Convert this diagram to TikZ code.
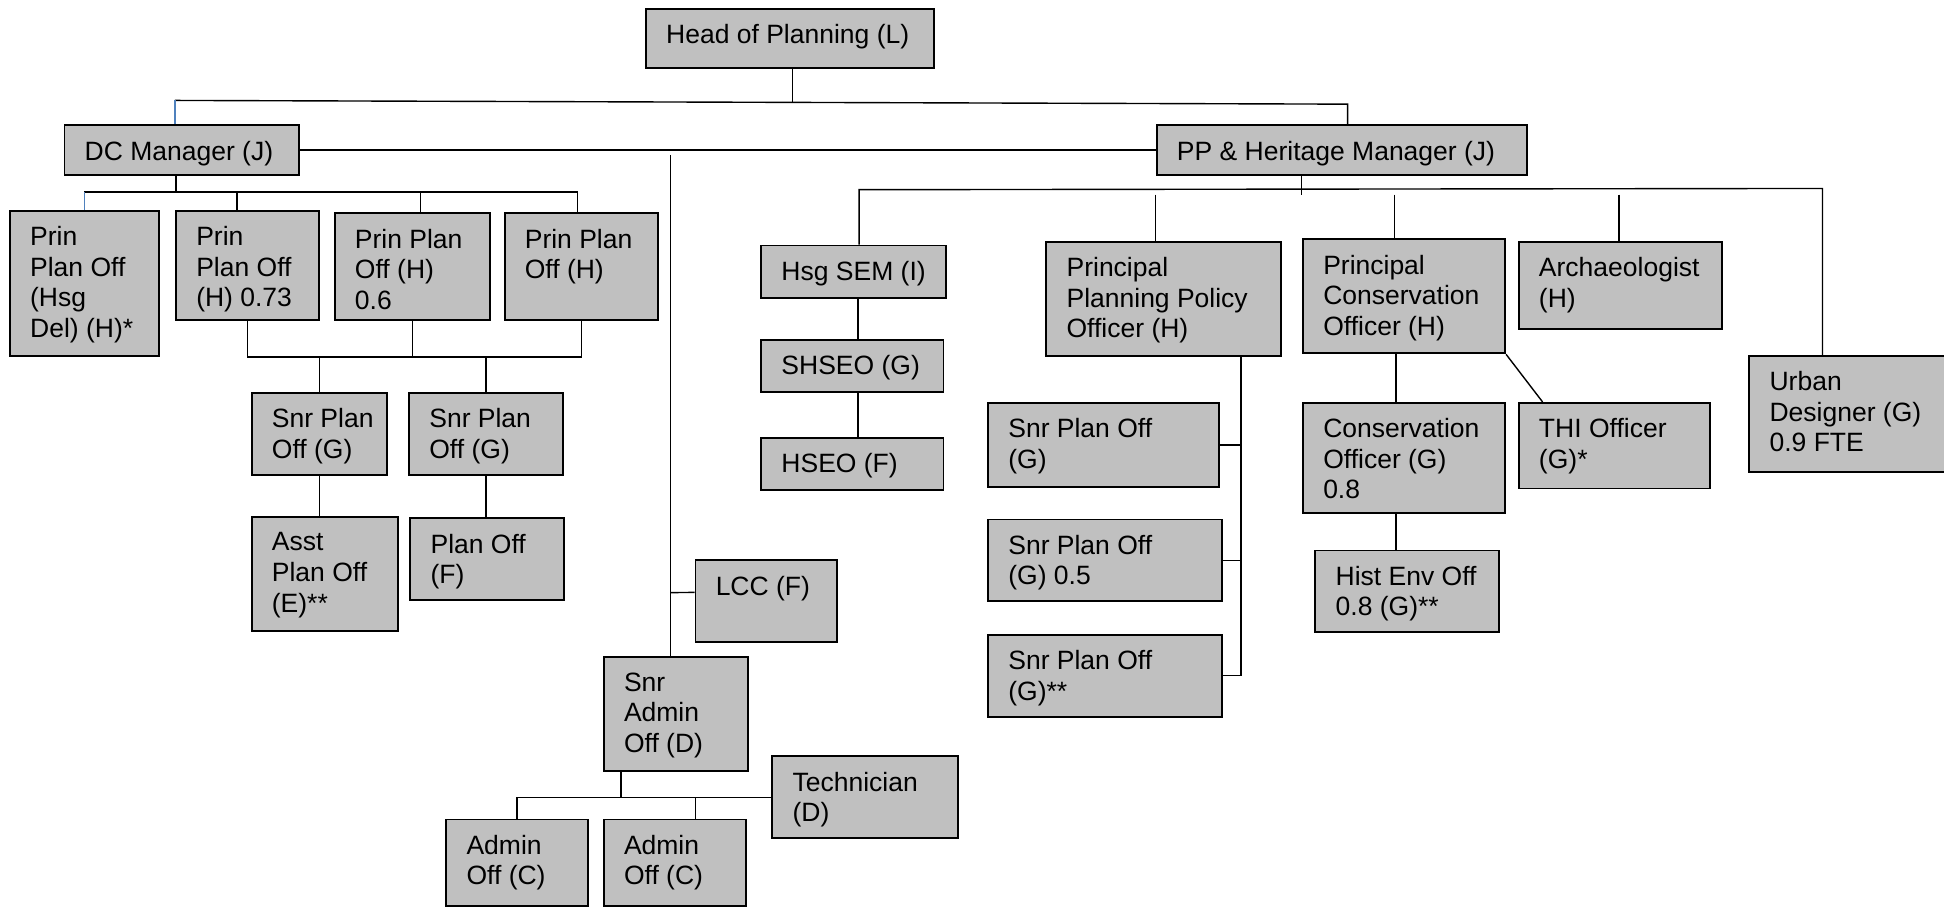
\documentclass[tikz,border=0pt]{standalone}
\usepackage{fontspec}
\setmainfont{Liberation Sans}
\usetikzlibrary{fit}

\definecolor{boxgrey}{RGB}{192,192,192}
\definecolor{linkblue}{RGB}{79,129,189}

\tikzset{
    box/.style={draw=black, line width=1.1pt, fill=boxgrey, inner sep=0pt},
    boxtxt/.style={anchor=north west, inner sep=0pt, align=left,
        font=\fontsize{15.2}{17.5}\selectfont},
    conn/.style={line width=0.8pt},
    bconn/.style={line width=0.8pt, draw=linkblue},
}

% box: name, top-left corner, bottom-right corner, text
\newcommand{\orgbox}[6]{%
    \node[box, fit={(#2,#3) (#4,#5)}] (#1) {};
    \node[boxtxt] (#1-t) at ([xshift=0.42cm,yshift=-0.33cm]#1.north west) {#6};
}

\begin{document}
\begin{tikzpicture}[x=0.025cm, y=-0.025cm]
    \useasboundingbox (0,0) rectangle (1568,732);

    %—————— top ——————
    \orgbox{head}{521}{7}{753}{55}{Head of Planning (L)}
    \orgbox{dc}{52}{101}{241}{141}{DC Manager (J)}
    \orgbox{pp}{933}{101}{1232}{141}{PP \& Heritage Manager (J)}

    %—————— DC side ——————
    \orgbox{pa}{8}{170}{128}{287}{Prin\\Plan Off\\(Hsg\\Del) (H)*}
    \orgbox{pb}{142}{170}{257}{258}{Prin\\Plan Off\\(H) 0.73}
    \orgbox{pc}{270}{172}{395}{258}{Prin Plan\\Off (H)\\0.6}
    \orgbox{pd}{407}{172}{531}{258}{Prin Plan\\Off (H)}
    \orgbox{sa}{203}{317}{312}{383}{Snr Plan\\Off (G)}
    \orgbox{sb}{330}{317}{454}{383}{Snr Plan\\Off (G)}
    \orgbox{asst}{203}{417}{321}{509}{Asst\\Plan Off\\(E)**}
    \orgbox{plo}{331}{418}{455}{484}{Plan Off\\(F)}

    % admin
    \orgbox{lcc}{561}{452}{675}{518}{LCC (F)}
    \orgbox{sadm}{487}{530}{603}{622}{Snr\\Admin\\Off (D)}
    \orgbox{adma}{360}{661}{474}{731}{Admin\\Off (C)}
    \orgbox{admb}{487}{661}{602}{731}{Admin\\Off (C)}
    \orgbox{tech}{623}{610}{773}{676}{Technician\\(D)}

    %—————— PP side ——————
    \orgbox{hsg}{614}{198}{763}{240}{Hsg SEM (I)}
    \orgbox{shs}{614}{274}{761}{316}{SHSEO (G)}
    \orgbox{hse}{614}{353}{761}{395}{HSEO (F)}
    \orgbox{ppo}{844}{195}{1033}{287}{Principal\\Planning Policy\\Officer (H)}
    \orgbox{spa}{797}{325}{983}{393}{Snr Plan Off\\(G)}
    \orgbox{spb}{797}{419}{986}{485}{Snr Plan Off\\(G) 0.5}
    \orgbox{spc}{797}{512}{986}{578}{Snr Plan Off\\(G)**}
    \orgbox{pco}{1051}{193}{1214}{285}{Principal\\Conservation\\Officer (H)}
    \orgbox{cons}{1051}{325}{1214}{414}{Conservation\\Officer (G)\\0.8}
    \orgbox{hist}{1061}{444}{1209}{510}{Hist Env Off\\0.8 (G)**}
    \orgbox{thi}{1225}{325}{1379}{394}{THI Officer\\(G)*}
    \orgbox{arch}{1225}{195}{1389}{265}{Archaeologist\\(H)}
    \orgbox{urb}{1411}{287}{1572}{381}{Urban\\Designer (G)\\0.9 FTE}

    %—————— connectors ——————
    % head to managers
    \coordinate (hb) at (639,83);
    \coordinate (tl) at (141,81);
    \coordinate (tr) at (1087,84);
    \draw[conn] (hb |- head.south) -- (hb);
    \draw[conn] (tl) -- (tr) -- (tr |- pp.north);
    \draw[bconn] (tl) -- (tl |- dc.north);
    \draw[conn] (dc.east) -- (pp.west);

    % DC manager to principals
    \coordinate (db) at (142,155);
    \draw[conn] (db |- dc.south) -- (db);
    \draw[conn] (pa.north |- db) -- (466,155);
    \draw[bconn] (pa.north |- db) -- (pa.north);
    \foreach \x/\n in {191/pb, 339/pc, 466/pd}
        \draw[conn] (\x,155) -- (\x,155 |- \n.north);

    % principals to senior officers
    \coordinate (lb) at (201,288);
    \draw[conn] (pb.south) -- (pb.south |- lb) -- (pd.south |- lb) -- (pd.south);
    \draw[conn] (pc.south) -- (pc.south |- lb);
    \draw[conn] (sa.north |- lb) -- (sa.north);
    \draw[conn] (sb.north |- lb) -- (sb.north);
    \draw[conn] (sa.south) -- (sa.south |- asst.north);
    \draw[conn] (sb.south) -- (sb.south |- plo.north);

    % admin spine
    \coordinate (vt) at (541,125);
    \draw[conn] (vt) -- (vt |- sadm.north);
    \draw[conn] (vt |- lcc.west) ++(0,-7) -- ([yshift=0.18cm]lcc.west);
    \coordinate (ab) at (501,643);
    \coordinate (ac) at (561,643);
    \draw[conn] (ab |- sadm.south) -- (ab);
    \draw[conn] (adma.north) -- (adma.north |- ab) -- (tech.west);
    \draw[conn] (ac) -- (ac |- admb.north);

    % PP manager to teams
    \coordinate (ppb) at (1050,157);
    \coordinate (bl) at (693,153);
    \coordinate (br) at (1470,152);
    \draw[conn] (ppb |- pp.south) -- (ppb);
    \draw[conn] (bl |- hsg.north) -- (bl) -- (br) -- (br |- urb.north);
    \foreach \x/\n in {932/ppo, 1125/pco, 1306/arch}
        \draw[conn] (\x,157) -- (\x,157 |- \n.north);

    % housing chain
    \coordinate (hx) at (692,240);
    \draw[conn] (hx |- hsg.south) -- (hx |- shs.north);
    \draw[conn] (hx |- shs.south) -- (hx |- hse.north);

    % policy team
    \coordinate (spn) at (1001,287);
    \draw[conn] (spn) -- (spn |- spc.east);
    \foreach \s in {spa, spb, spc}
        \draw[conn] (\s.east) -- (spn |- \s.east);

    % conservation team
    \coordinate (cx) at (1126,285);
    \draw[conn] (cx) -- (cx |- cons.north);
    \draw[conn] (cx |- cons.south) -- (cx |- hist.north);
    \draw[conn] (pco.south east) -- ([xshift=0.5cm]thi.north west);
\end{tikzpicture}
\end{document}
